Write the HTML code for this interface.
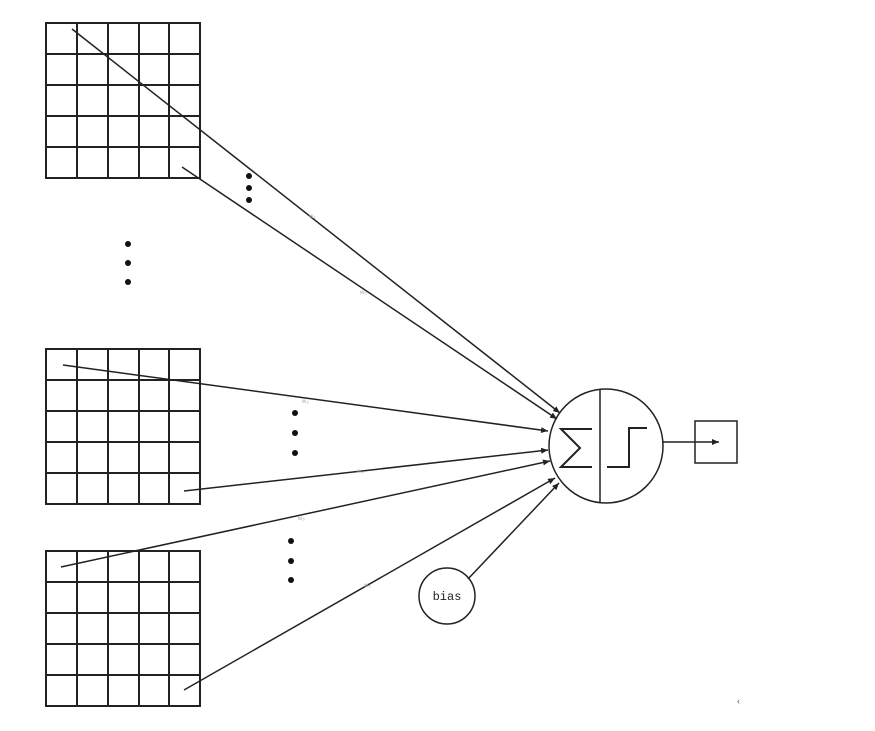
<!DOCTYPE html>
<html><head><meta charset="utf-8"><style>
html,body{margin:0;padding:0;background:#fff;}
svg{display:block;}
</style></head><body>
<svg width="875" height="731" viewBox="0 0 875 731" xmlns="http://www.w3.org/2000/svg">
<defs>
<marker id="ah" markerWidth="8" markerHeight="8" refX="7" refY="4" orient="auto" markerUnits="userSpaceOnUse">
<path d="M0,1 L7,4 L0,7 Z" fill="#222"/>
</marker>
<g id="grid" stroke="#222" stroke-width="2" fill="none">
<rect x="0" y="0" width="154" height="155"/>
<line x1="31" y1="0" x2="31" y2="155"/><line x1="62" y1="0" x2="62" y2="155"/>
<line x1="93" y1="0" x2="93" y2="155"/><line x1="123" y1="0" x2="123" y2="155"/>
<line x1="0" y1="31" x2="154" y2="31"/><line x1="0" y1="62" x2="154" y2="62"/>
<line x1="0" y1="93" x2="154" y2="93"/><line x1="0" y1="124" x2="154" y2="124"/>
</g>
</defs>
<use href="#grid" x="46" y="23"/>
<use href="#grid" x="46" y="349"/>
<use href="#grid" x="46" y="551"/>

<g stroke="#222" stroke-width="1.5" fill="none" marker-end="url(#ah)">
<line x1="72" y1="29" x2="560" y2="413"/>
<line x1="182" y1="167" x2="557" y2="419"/>
<line x1="63" y1="365" x2="548" y2="431"/>
<line x1="184" y1="491" x2="548" y2="450"/>
<line x1="61" y1="567" x2="550" y2="461"/>
<line x1="184" y1="690" x2="555" y2="478"/>
<line x1="468" y1="579" x2="559" y2="483"/>
</g>

<g font-family="Liberation Sans, sans-serif" font-size="6" fill="#aaa">
<text x="309" y="218">w₁</text>
<text x="360" y="294">w₂</text>
<text x="302" y="403">w₃</text>
<text x="357" y="473">w₄</text>
<text x="298" y="520">w₅</text>
<text x="364" y="587">w₆</text>
</g>

<g fill="#111">
<circle cx="249" cy="176" r="3"/><circle cx="249" cy="188" r="3"/><circle cx="249" cy="200" r="3"/>
<circle cx="128" cy="244" r="3"/><circle cx="128" cy="263" r="3"/><circle cx="128" cy="282" r="3"/>
<circle cx="295" cy="413" r="3"/><circle cx="295" cy="433" r="3"/><circle cx="295" cy="453" r="3"/>
<circle cx="291" cy="541" r="3"/><circle cx="291" cy="561" r="3"/><circle cx="291" cy="580" r="3"/>
</g>

<g stroke="#222" stroke-width="1.5" fill="none">
<circle cx="606" cy="446" r="57"/>
<line x1="600" y1="389" x2="600" y2="503"/>
<polyline points="592,429 561,429 580,448 561,467 592,467" stroke-width="2"/>
<polyline points="607,467 629,467 629,428 647,428" stroke-width="2"/>
<rect x="695" y="421" width="42" height="42"/>
<circle cx="447" cy="596" r="28"/>
</g>
<line x1="663" y1="442" x2="719" y2="442" stroke="#222" stroke-width="1.5" marker-end="url(#ah)"/>
<text x="447" y="600" text-anchor="middle" font-family="Liberation Mono, monospace" font-size="12" fill="#222">bias</text>
<text x="737" y="704" font-family="Liberation Sans, sans-serif" font-size="9" fill="#555">‹</text>
</svg>
</body></html>
